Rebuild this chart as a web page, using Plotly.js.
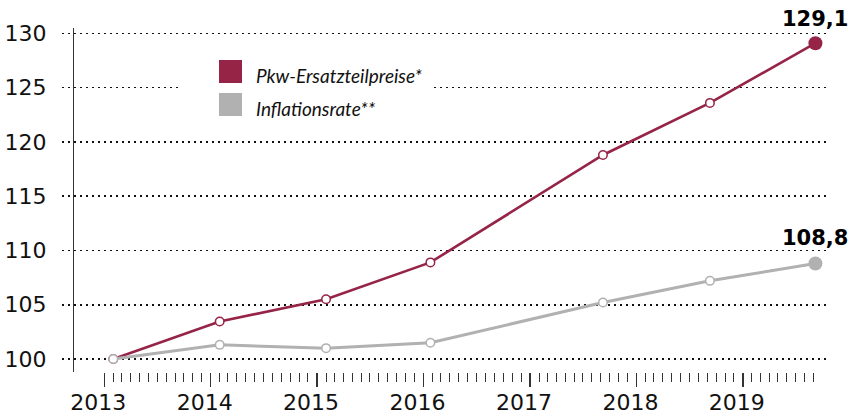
<!DOCTYPE html>
<html>
<head>
<meta charset="utf-8">
<script src="https://cdn.plot.ly/plotly-3.0.1.min.js"></script>
<style>html,body{margin:0;padding:0;background:#fff;}#chart{width:850px;height:416px;}</style>
</head>
<body>
<div id="chart"></div>
<script>
// ---- data ----
const dates = ['2013-02-01','2014-02-01','2015-02-01','2016-01-25','2017-09-08','2018-09-10','2019-09-07'];
const pkwValues = [100, 103.45, 105.5, 108.9, 118.8, 123.6, 129.1];
const inflationValues = [100, 101.3, 101.0, 101.5, 105.2, 107.2, 108.8];
const seriesNames = ['Pkw-Ersatzteilpreise*', 'Inflationsrate**'];
const yearTicks = ['2013-01-01','2014-01-01','2015-01-01','2016-01-01','2017-01-01','2018-01-01','2019-01-01'];
const yearLabels = ['2013','2014','2015','2016','2017','2018','2019'];
const yTicks = [100, 105, 110, 115, 120, 125, 130];

const RED = '#952447', GRAY = '#b1b1b1';
const fmt = v => v.toFixed(1).replace('.', ',');

// monthly minor tick positions from 2013 through Sep 2019
const minorTicks = [];
for (let y = 2013; y <= 2019; y++) {
  const last = (y === 2019) ? 9 : 12;
  for (let m = 2; m <= last; m++) minorTicks.push(y + '-' + String(m).padStart(2,'0') + '-01');
}

function styled(vals, color) {
  const n = vals.length;
  return {
    opacity: 1,
    size: vals.map((v,i) => i === n-1 ? 14 : 8.5),
    color: vals.map((v,i) => i === n-1 ? color : '#ffffff'),
    line: {color: color, width: vals.map((v,i) => i === n-1 ? 0 : 1.5)}
  };
}

const traces = [
  {x: dates, y: pkwValues, type: 'scatter', mode: 'lines+markers', name: seriesNames[0],
   line: {color: RED, width: 2.6}, marker: styled(pkwValues, RED), cliponaxis: false, showlegend: false},
  {x: dates, y: inflationValues, type: 'scatter', mode: 'lines+markers', name: seriesNames[1],
   line: {color: GRAY, width: 3}, marker: styled(inflationValues, GRAY), cliponaxis: false, showlegend: false}
];

const W = 850, H = 416, L = 62, R = 20, T = 28, B = 44;
const pw = W - L - R, ph = H - T - B;
const px = x => (x - L) / pw;
const py = y => (H - B - y) / ph;

const annotations = [
  {x: dates[dates.length-1], y: pkwValues[pkwValues.length-1], text: '<b>' + fmt(pkwValues[pkwValues.length-1]) + '</b>',
   showarrow: false, yanchor: 'bottom', xanchor: 'center', yshift: 10, font: {family: 'DejaVu Sans', size: 21, color: '#000'}},
  {x: dates[dates.length-1], y: inflationValues[inflationValues.length-1], text: '<b>' + fmt(inflationValues[inflationValues.length-1]) + '</b>',
   showarrow: false, yanchor: 'bottom', xanchor: 'center', yshift: 11, font: {family: 'DejaVu Sans', size: 21, color: '#000'}},
  {xref: 'paper', yref: 'paper', x: px(254), y: py(75), text: '<i>' + seriesNames[0] + '</i>', showarrow: false,
   xanchor: 'left', yanchor: 'middle', font: {family: 'Lato', size: 19, color: '#111'}},
  {xref: 'paper', yref: 'paper', x: px(254), y: py(109), text: '<i>' + seriesNames[1] + '</i>', showarrow: false,
   xanchor: 'left', yanchor: 'middle', font: {family: 'Lato', size: 19, color: '#111'}}
];

const shapes = [
  {type: 'rect', xref: 'paper', yref: 'paper', x0: px(181), x1: px(432), y0: py(56), y1: py(122), fillcolor: '#ffffff', line: {width: 0}, layer: 'above'},
  {type: 'rect', xref: 'paper', yref: 'paper', x0: px(219), x1: px(242), y0: py(60), y1: py(83), fillcolor: RED, line: {width: 0}, layer: 'above'},
  {type: 'rect', xref: 'paper', yref: 'paper', x0: px(219), x1: px(242), y0: py(93), y1: py(116), fillcolor: GRAY, line: {width: 0}, layer: 'above'}
];

const layout = {
  width: W, height: H,
  margin: {l: L, r: R, t: T, b: B, pad: 0},
  paper_bgcolor: '#fff', plot_bgcolor: '#fff',
  showlegend: false,
  font: {family: 'DejaVu Sans', size: 22, color: '#111'},
  xaxis: {
    type: 'date', range: ['2012-08-09', '2019-10-27'],
    showgrid: false, zeroline: false, showline: false,
    tickmode: 'array', tickvals: yearTicks, ticktext: yearLabels,
    ticks: 'outside', ticklen: 14, tickwidth: 1.4, tickcolor: '#333',
    ticklabelshift: -6, ticklabelstandoff: -3,
    tickfont: {family: 'DejaVu Sans', size: 22, color: '#111'},
    minor: {tickmode: 'array', tickvals: minorTicks, ticks: 'outside', ticklen: 9, tickwidth: 1, tickcolor: '#333', showgrid: false}
  },
  yaxis: {
    range: [98.8, 130.5], anchor: 'free', position: px(73),
    tickmode: 'array', tickvals: yTicks,
    showline: true, linecolor: '#333', linewidth: 1.4,
    showgrid: true, gridcolor: '#111', gridwidth: 1.6, griddash: '1.6px,4.4px',
    zeroline: false, ticks: '', ticklabelstandoff: 22,
    tickfont: {family: 'DejaVu Sans', size: 22, color: '#111'}
  },
  annotations: annotations,
  shapes: shapes
};

Plotly.newPlot('chart', traces, layout, {staticPlot: true, displayModeBar: false});
</script>
</body>
</html>
